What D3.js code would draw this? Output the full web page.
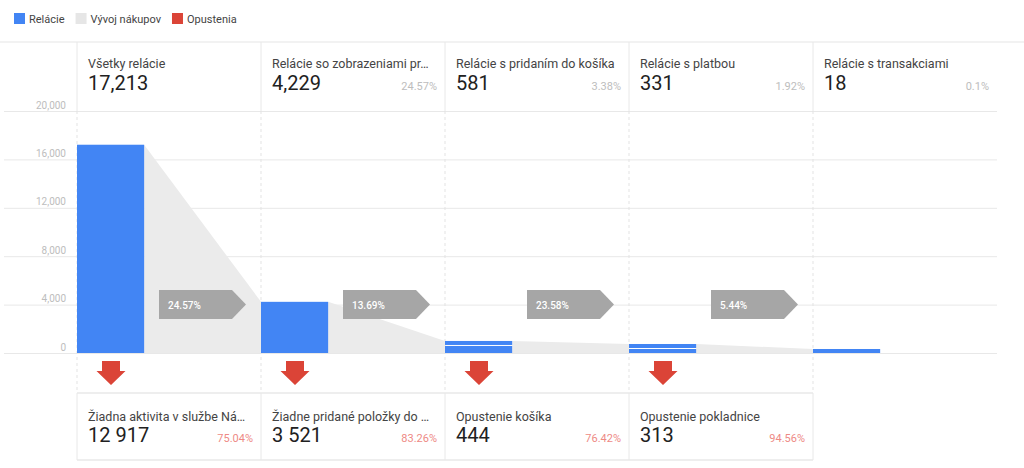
<!DOCTYPE html>
<html>
<head>
<meta charset="utf-8">
<script src="https://cdnjs.cloudflare.com/ajax/libs/d3/7.8.5/d3.min.js"></script>
<style>
  body { margin: 0; background: #fff; font-family: Roboto, "Noto Sans", sans-serif; }
  svg text { font-family: Roboto, "Noto Sans", sans-serif; }
</style>
</head>
<body>
<div class="container"></div>
<script>
const width = 1024,
    height = 468;

// funnel steps
const steps = ["Všetky relácie", "Relácie so zobrazeniami pr…", "Relácie s pridaním do košíka", "Relácie s platbou", "Relácie s transakciami"];
const stepValues = [17213, 4229, 581, 331, 18];
const stepLabels = ["17,213", "4,229", "581", "331", "18"];
const stepShare = ["", "24.57%", "3.38%", "1.92%", "0.1%"];
const doubleBar = [false, false, true, true, false];

// conversion between steps
const conversion = ["24.57%", "13.69%", "23.58%", "5.44%"];

// abandonments
const dropNames = ["Žiadna aktivita v službe Ná…", "Žiadne pridané položky do …", "Opustenie košíka", "Opustenie pokladnice"];
const dropLabels = ["12 917", "3 521", "444", "313"];
const dropShare = ["75.04%", "83.26%", "76.42%", "94.56%"];

const yTicks = [0, 4000, 8000, 12000, 16000, 20000];

const legendItems = ["Relácie", "Vývoj nákupov", "Opustenia"];
const legendColors = ["#4285f4", "#e6e6e6", "#db4437"];

const blue = "#4285f4", red = "#db4437", line = "#e8e8e8";

const svg = d3.select(".container")
  .append("svg")
  .attr("width", width)
  .attr("height", height);

const xScale = d3.scaleBand()
  .domain(steps)
  .range([77, 997])
  .paddingInner(0);

const yScale = d3.scaleLinear()
  .domain([0, 20000])
  .range([353, 111]);

const barW = xScale.bandwidth() * 0.365;
const colX = (i) => xScale(steps[i]);
const colEnd = (i) => xScale(steps[i]) + xScale.bandwidth();

// bar geometry, small bars get a minimum height
const mainTop = (i) => Math.min(yScale(stepValues[i]), 349);
const barTop = (i) => doubleBar[i] ? mainTop(i) - 5 : mainTop(i);

// legend
const legend = svg.append("g").attr("transform", "translate(14,13)");
let lx = 0;
legendItems.forEach((name, i) => {
  legend.append("rect").attr("x", lx).attr("y", 0).attr("width", 11).attr("height", 11).attr("fill", legendColors[i]);
  const t = legend.append("text").attr("x", lx + 15).attr("y", 10)
    .attr("font-size", 11).attr("fill", "#444").text(name);
  lx += 15 + t.node().getComputedTextLength() + 11;
});

// top border
svg.append("line").attr("x1", 0).attr("x2", width).attr("y1", 42).attr("y2", 42)
  .attr("stroke", "#eeeeee").attr("stroke-width", 1.5);

// y axis grid
const yAxis = d3.axisLeft(yScale)
  .tickValues(yTicks)
  .tickSize(-993)
  .tickFormat(d3.format(","));

svg.append("g")
  .attr("transform", "translate(4,0)")
  .call(yAxis)
  .call(g => g.select(".domain").remove())
  .call(g => g.selectAll(".tick line").attr("stroke", line))
  .call(g => g.selectAll(".tick text")
    .attr("x", 62).attr("dy", -3).attr("text-anchor", "end")
    .attr("font-size", 10).attr("fill", "#bdbdbd")
    .attr("font-family", "Roboto, sans-serif"));

// column separators: solid in header, dashed in chart
steps.forEach((s, i) => {
  svg.append("line").attr("x1", colX(i)).attr("x2", colX(i)).attr("y1", 42).attr("y2", 111)
    .attr("stroke", line);
});
svg.selectAll("line.dash")
  .data(d3.range(steps.length).map(colX))
  .enter()
  .append("line")
  .attr("class", "dash")
  .attr("x1", d => d).attr("x2", d => d)
  .attr("y1", 111).attr("y2", 393)
  .attr("stroke", "#e3e3e3")
  .attr("stroke-dasharray", "3,3");

// funnel flow areas
svg.selectAll("path.flow")
  .data(conversion)
  .enter()
  .append("path")
  .attr("class", "flow")
  .attr("fill", "#ebebeb")
  .attr("d", (d, i) => {
    const x0 = colX(i) + barW, x1 = colX(i + 1);
    return `M${x0},${barTop(i)}L${x1},${barTop(i + 1)}L${x1},${yScale(0)}L${x0},${yScale(0)}Z`;
  });

// bars
svg.selectAll("rect.bar")
  .data(stepValues)
  .enter()
  .append("rect")
  .attr("class", "bar")
  .attr("x", (d, i) => colX(i))
  .attr("y", (d, i) => mainTop(i))
  .attr("width", barW)
  .attr("height", (d, i) => yScale(0) - mainTop(i))
  .attr("fill", blue);

svg.selectAll("rect.cap")
  .data(stepValues.map((d, i) => i).filter(i => doubleBar[i]))
  .enter()
  .append("rect")
  .attr("class", "cap")
  .attr("x", i => colX(i))
  .attr("y", i => barTop(i))
  .attr("width", barW)
  .attr("height", 4)
  .attr("fill", blue);

// conversion arrows
const arrows = svg.selectAll("g.conv")
  .data(conversion)
  .enter()
  .append("g")
  .attr("class", "conv")
  .attr("transform", (d, i) => `translate(${colX(i) + 82},${yScale(4000)})`);

arrows.append("path")
  .attr("d", "M0,-14.5L73,-14.5L87,0L73,14.5L0,14.5Z")
  .attr("fill", "#a6a6a6");

arrows.append("text")
  .attr("x", 9).attr("y", 4)
  .attr("font-size", 10).attr("font-weight", 500)
  .attr("fill", "#fff")
  .text(d => d);

// header texts
const header = svg.selectAll("g.head")
  .data(steps)
  .enter()
  .append("g")
  .attr("class", "head");

header.append("text")
  .attr("x", (d, i) => colX(i) + 11).attr("y", 68)
  .attr("font-size", 12.5).attr("fill", "#444")
  .text(d => d);

header.append("text")
  .attr("x", (d, i) => colX(i) + 11).attr("y", 90)
  .attr("font-size", 20).attr("fill", "#212121")
  .text((d, i) => stepLabels[i]);

header.append("text")
  .attr("x", (d, i) => colEnd(i) - 8).attr("y", 90)
  .attr("text-anchor", "end")
  .attr("font-size", 11).attr("fill", "#bdbdbd")
  .text((d, i) => stepShare[i]);

// red drop arrows
svg.selectAll("path.drop")
  .data(dropNames)
  .enter()
  .append("path")
  .attr("class", "drop")
  .attr("fill", red)
  .attr("transform", (d, i) => `translate(${colX(i) + 34},361)`)
  .attr("d", "M-9,0L9,0L9,10L14.5,10L0,24L-14.5,10L-9,10Z");

// drop-off cards
svg.append("line").attr("x1", colX(0)).attr("x2", colX(4)).attr("y1", 393).attr("y2", 393)
  .attr("stroke", line).attr("stroke-width", 1.5);
svg.append("line").attr("x1", colX(0)).attr("x2", colX(4)).attr("y1", 460).attr("y2", 460)
  .attr("stroke", line).attr("stroke-width", 1.5);
d3.range(5).forEach(i => {
  svg.append("line").attr("x1", colX(i)).attr("x2", colX(i)).attr("y1", 393).attr("y2", 460)
    .attr("stroke", line);
});

const cards = svg.selectAll("g.card")
  .data(dropNames)
  .enter()
  .append("g")
  .attr("class", "card");

cards.append("text")
  .attr("x", (d, i) => colX(i) + 11).attr("y", 421)
  .attr("font-size", 12.5).attr("fill", "#444")
  .text(d => d);

cards.append("text")
  .attr("x", (d, i) => colX(i) + 11).attr("y", 442)
  .attr("font-size", 20).attr("fill", "#212121")
  .text((d, i) => dropLabels[i]);

cards.append("text")
  .attr("x", (d, i) => colEnd(i) - 8).attr("y", 442)
  .attr("text-anchor", "end")
  .attr("font-size", 11).attr("fill", "#ee8a85")
  .text((d, i) => dropShare[i]);
</script>
</body>
</html>
